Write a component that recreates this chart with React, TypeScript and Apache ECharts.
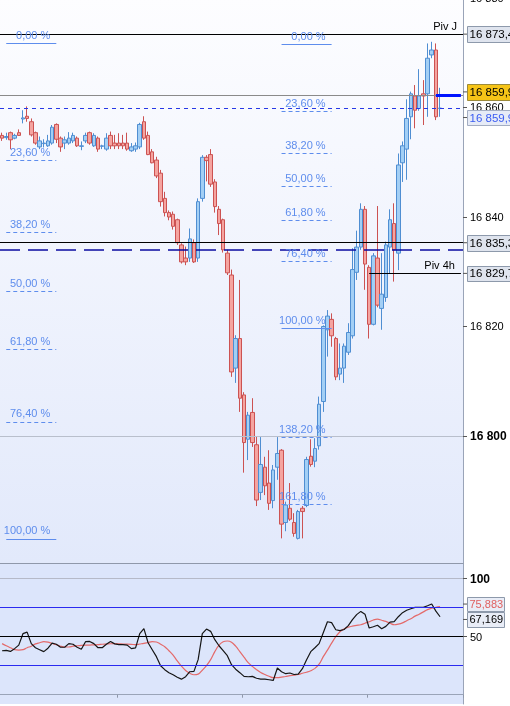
import React, { useEffect, useRef } from 'react';
import * as echarts from 'echarts';

const open = [16854.9, 16854.5, 16855.4, 16854.4, 16855.4, 16857.9, 16858.4, 16857.4, 16855.4, 16852.8,
  16853.4, 16853.0, 16853.5, 16856.9, 16854.4, 16853.5, 16853.5, 16853.9, 16854.4, 16852.9,
  16853.9, 16855.4, 16853.0, 16854.4, 16852.9, 16852.4, 16854.9, 16853.5, 16853.5, 16853.5,
  16853.5, 16852.1, 16852.4, 16852.8, 16857.4, 16854.9, 16851.9, 16850.4, 16848.0, 16843.4,
  16840.8, 16840.5, 16839.5, 16834.9, 16832.5, 16832.5, 16835.3, 16832.5, 16843.4, 16850.9,
  16851.4, 16846.4, 16841.4, 16839.5, 16833.4, 16829.4, 16812.4, 16817.8, 16807.5, 16799.4,
  16804.3, 16798.4, 16789.7, 16794.3, 16791.4, 16788.2, 16794.3, 16797.4, 16784.2, 16786.8,
  16784.2, 16781.3, 16786.8, 16787.3, 16796.3, 16795.4, 16798.2, 16806.3, 16819.4, 16821.3,
  16817.8, 16811.3, 16812.4, 16815.3, 16818.3, 16829.9, 16834.5, 16841.4, 16830.8, 16820.4,
  16832.5, 16823.3, 16825.3, 16834.5, 16838.8, 16833.4, 16849.9, 16852.4, 16858.3, 16862.1,
  16859.8, 16862.5, 16862.5, 16869.6, 16870.5, 16859.8];

const close = [16854.4, 16854.7, 16854.1, 16854.9, 16854.9, 16858.1, 16858.0, 16855.0, 16853.5, 16853.9,
  16853.5, 16853.9, 16856.4, 16854.2, 16852.8, 16854.1, 16854.4, 16854.9, 16853.0, 16853.0,
  16854.9, 16853.5, 16854.9, 16852.4, 16853.0, 16854.4, 16853.0, 16853.0, 16853.0, 16853.0,
  16852.4, 16852.8, 16853.0, 16856.9, 16854.4, 16851.4, 16849.9, 16847.5, 16842.8, 16840.8,
  16840.0, 16838.3, 16835.3, 16831.8, 16831.8, 16836.0, 16831.8, 16842.8, 16850.9, 16850.3,
  16846.0, 16841.9, 16838.8, 16834.0, 16829.8, 16811.7, 16817.8, 16806.9, 16798.8, 16803.8,
  16798.8, 16788.3, 16794.8, 16790.9, 16787.7, 16793.8, 16796.8, 16783.9, 16787.4, 16784.8,
  16782.2, 16786.2, 16786.2, 16795.7, 16794.8, 16797.7, 16805.8, 16820.0, 16821.9, 16818.3,
  16810.8, 16812.4, 16816.4, 16818.9, 16830.4, 16834.5, 16841.4, 16831.4, 16820.4, 16832.9,
  16823.9, 16825.9, 16834.9, 16839.5, 16834.0, 16849.5, 16853.0, 16858.0, 16862.5, 16859.5,
  16862.1, 16862.1, 16869.0, 16870.5, 16858.3, 16859.9];

const low = [16853.9, 16854.1, 16852.4, 16854.2, 16854.8, 16857.1, 16857.4, 16854.7, 16853.2, 16852.4,
  16852.7, 16852.8, 16853.2, 16853.5, 16851.9, 16852.4, 16853.2, 16853.5, 16852.8, 16852.2,
  16853.5, 16853.2, 16852.8, 16851.9, 16852.4, 16852.1, 16852.4, 16852.4, 16852.4, 16852.4,
  16852.1, 16851.9, 16851.9, 16852.4, 16854.1, 16851.3, 16849.8, 16847.1, 16841.9, 16840.1,
  16839.4, 16837.7, 16834.9, 16831.5, 16831.2, 16831.8, 16831.6, 16831.8, 16842.8, 16846.5,
  16845.5, 16840.8, 16836.7, 16833.5, 16829.4, 16810.8, 16809.7, 16804.4, 16793.3, 16795.6,
  16798.0, 16787.2, 16788.3, 16789.2, 16786.5, 16786.8, 16792.0, 16781.3, 16782.6, 16784.5,
  16781.6, 16781.1, 16781.3, 16787.0, 16794.4, 16794.3, 16797.5, 16804.4, 16814.5, 16816.3,
  16810.2, 16810.2, 16809.7, 16814.8, 16817.8, 16828.5, 16834.0, 16826.7, 16817.8, 16820.2,
  16823.5, 16819.4, 16824.5, 16829.7, 16828.2, 16830.3, 16846.4, 16846.8, 16854.2, 16856.2,
  16859.4, 16856.8, 16858.3, 16869.0, 16857.7, 16858.3];

const high = [16855.4, 16855.4, 16855.6, 16855.2, 16856.0, 16859.5, 16860.2, 16858.0, 16855.6, 16854.7,
  16854.2, 16855.0, 16856.8, 16857.1, 16854.7, 16854.7, 16855.5, 16855.4, 16854.7, 16853.8,
  16855.4, 16855.6, 16855.3, 16854.7, 16853.2, 16855.3, 16855.6, 16855.0, 16855.3, 16855.0,
  16855.4, 16853.5, 16853.6, 16857.2, 16858.4, 16855.6, 16852.4, 16851.0, 16848.6, 16844.6,
  16841.2, 16841.0, 16839.7, 16835.2, 16834.6, 16837.9, 16835.9, 16843.4, 16851.3, 16851.3,
  16852.4, 16846.9, 16842.0, 16839.7, 16834.0, 16830.4, 16818.4, 16828.5, 16808.0, 16804.4,
  16806.9, 16799.9, 16799.8, 16796.2, 16797.4, 16794.7, 16799.8, 16797.6, 16788.0, 16791.4,
  16785.9, 16786.5, 16787.2, 16796.2, 16799.4, 16799.6, 16807.2, 16820.2, 16823.0, 16822.4,
  16818.1, 16816.9, 16816.9, 16820.6, 16834.3, 16837.5, 16842.5, 16842.0, 16831.2, 16833.4,
  16842.0, 16833.4, 16835.5, 16841.4, 16842.5, 16851.6, 16853.8, 16861.5, 16862.9, 16864.1,
  16867.0, 16865.0, 16871.7, 16872.0, 16871.7, 16863.6];

const stochK = [37.9, 38.2, 37.3, 39.7, 42.7, 52.6, 53.9, 44.0, 40.5, 38.8,
  37.1, 40.1, 44.4, 43.5, 40.9, 40.9, 44.0, 43.5, 40.9, 39.2,
  45.7, 45.9, 44.0, 40.5, 40.5, 43.5, 45.9, 43.8, 43.1, 43.1,
  42.7, 39.7, 40.3, 52.6, 56.9, 44.8, 38.8, 32.8, 25.0, 21.6,
  19.0, 17.2, 15.1, 13.4, 15.5, 19.8, 20.1, 30.2, 52.6, 56.6,
  54.6, 47.4, 42.2, 37.9, 33.6, 25.9, 22.0, 19.0, 15.8, 15.5,
  15.8, 14.2, 13.5, 13.4, 12.9, 12.3, 23.0, 19.8, 18.1, 18.7,
  17.4, 17.7, 22.4, 30.2, 37.1, 40.5, 44.0, 53.4, 62.9, 62.1,
  56.0, 55.2, 56.2, 59.5, 64.7, 69.0, 71.8, 69.4, 57.5, 58.6,
  59.9, 56.9, 58.9, 62.5, 62.9, 67.2, 70.7, 72.8, 74.1, 75.2,
  75.3, 75.3, 76.7, 78.2, 72.0, 67.169];

const stochD = [44.0, 42.2, 40.5, 38.8, 38.4, 38.8, 40.5, 41.8, 43.8, 44.8,
  45.7, 45.3, 44.1, 43.1, 41.8, 41.1, 41.1, 41.8, 42.2, 42.5,
  42.7, 42.8, 43.0, 43.1, 43.5, 43.7, 43.9, 44.0, 43.9, 43.7,
  43.6, 43.4, 43.1, 43.7, 44.3, 45.0, 45.7, 45.4, 43.5, 41.4,
  37.9, 34.1, 29.1, 24.6, 20.9, 18.5, 17.2, 17.7, 21.1, 25.0,
  30.2, 37.1, 42.7, 45.7, 46.3, 45.3, 41.8, 37.1, 32.3, 27.6,
  24.4, 21.6, 19.2, 17.4, 15.9, 14.7, 14.7, 15.2, 15.7, 16.4,
  16.8, 17.4, 18.5, 19.4, 20.7, 22.7, 26.3, 32.8, 38.4, 44.4,
  50.0, 54.3, 56.7, 58.2, 59.1, 59.7, 60.3, 61.6, 62.9, 64.4,
  65.1, 64.2, 63.2, 61.6, 60.3, 60.8, 61.9, 63.8, 65.5, 67.7,
  69.4, 71.4, 73.3, 74.6, 75.3, 75.883];

const SLOTS = 111;
const categories = Array.from({ length: SLOTS }, (_, i) => String(i));
const priceTicks = [16800, 16820, 16840, 16860, 16880];
const oscTicks = [50, 100];
const timeTickSlots = [28, 58, 88];

const fibLevels = [0, 23.6, 38.2, 50, 61.8, 76.4, 100];
const fibExtLevels = [0, 23.6, 38.2, 50, 61.8, 76.4, 100, 138.2, 161.8];
const fibLeft = { top: 16871.7, bottom: 16781.2, from: 1, to: 13 };
const fibRight = { top: 16871.5, bottom: 16819.6, from: 67, to: 79 };

const pivJ = 16873.4;
const lastPriceLine = 16862.3;
const lastPrice = 16859.9;
const level2 = 16835.3;
const dashLevel = 16834.0;
const piv4h = 16829.7;
const piv4hFrom = 88;
const roundLevel = 16800;
const oscLevels = [100, 75, 50, 25];
const lastK = 67.169;
const lastD = 75.883;

const FONT = '"Liberation Sans", Arial, Helvetica, sans-serif';
const FIB_COLOR = '#5e8ded';

function fmt(v: number, d: number) {
  const s = v.toFixed(d);
  const parts = s.split('.');
  const intS = parts[0].replace(/\B(?=(\d{3})+(?!\d))/g, ' ');
  return parts[1] ? intS + ',' + parts[1] : intS;
}

export default function App() {
  const ref = useRef<HTMLDivElement>(null);
  useEffect(() => {
    const chart = echarts.init(ref.current!, null, { renderer: 'svg' });
    const candleData = open.map((o, i) => [o, close[i], low[i], high[i]]);

    const fibLines = (fib: any, levels: number[]) =>
      levels.map((l) => {
        const p = fib.top - ((fib.top - fib.bottom) * l) / 100;
        const solid = l === 0 || l === 100;
        return [
          {
            coord: [categories[fib.from], p],
            lineStyle: { color: FIB_COLOR, width: 1, type: solid ? 'solid' : [4, 3] },
            label: {
              show: true,
              position: 'insideEndTop',
              formatter: l.toFixed(2).replace('.', ',') + ' %',
              color: FIB_COLOR,
              fontSize: 11,
              fontFamily: FONT,
              distance: [6, 3],
            },
          },
          { coord: [categories[fib.to], p] },
        ];
      });

    const option: any = {
      animation: false,
      textStyle: { fontFamily: FONT },
      grid: [
        {
          left: 0, right: 47, top: -2, height: 565, show: true, borderWidth: 0,
          outerBoundsMode: 'none', containLabel: false,
          backgroundColor: new echarts.graphic.LinearGradient(0, 0, 0, 1, [
            { offset: 0, color: '#fdfdff' },
            { offset: 1, color: '#e2e9fb' },
          ]),
        },
        {
          left: 0, right: 47, top: 563, height: 141, show: true, borderWidth: 0,
          outerBoundsMode: 'none', containLabel: false, backgroundColor: '#dce5fb',
        },
      ],
      xAxis: [
        {
          type: 'category', gridIndex: 0, data: categories, boundaryGap: true,
          axisLabel: { show: false }, axisTick: { show: false },
          axisLine: { show: true, lineStyle: { color: '#8f98aa', width: 1 } },
          splitLine: { show: false },
        },
        {
          type: 'category', gridIndex: 1, data: categories, boundaryGap: true,
          axisLabel: { show: false },
          axisTick: { show: true, length: 3, interval: (i: number) => timeTickSlots.includes(i), lineStyle: { color: '#8f98aa' } },
          axisLine: { show: true, lineStyle: { color: '#9aa4b8', width: 1 } },
          splitLine: { show: false },
        },
      ],
      yAxis: [
        {
          type: 'value', gridIndex: 0, position: 'right', min: 16776.8, max: 16880, scale: true,
          splitLine: { show: false },
          axisLine: { show: true, lineStyle: { color: '#9aa4b8' } },
          axisTick: { show: true, length: 4, customValues: priceTicks, lineStyle: { color: '#555' } },
          axisLabel: {
            customValues: priceTicks, margin: 7, color: '#000', fontSize: 11, fontFamily: FONT,
            formatter: (v: number) => (v === roundLevel ? '{b|' + fmt(v, 0) + '}' : fmt(v, 0)),
            rich: { b: { fontWeight: 'bold', fontSize: 12, color: '#000', fontFamily: FONT } },
          },
        },
        {
          type: 'value', gridIndex: 1, position: 'right', min: -8, max: 113.5,
          splitLine: { show: false },
          axisLine: { show: true, lineStyle: { color: '#9aa4b8' } },
          axisTick: { show: true, length: 4, customValues: oscTicks, lineStyle: { color: '#555' } },
          axisLabel: {
            customValues: oscTicks, margin: 7, color: '#000', fontSize: 11, fontFamily: FONT,
            formatter: (v: number) => (v === 100 ? '{b|100}' : String(v)),
            rich: { b: { fontWeight: 'bold', fontSize: 12, color: '#000', fontFamily: FONT } },
          },
        },
      ],
      series: [
        {
          type: 'candlestick', xAxisIndex: 0, yAxisIndex: 0, data: candleData, barWidth: 4,
          itemStyle: {
            color: '#a3cff5', color0: '#f5a4a0',
            borderColor: '#4f8ed2', borderColor0: '#cc5252', borderWidth: 1,
          },
          markLine: {
            silent: true, symbol: ['none', 'none'], animation: false,
            label: { show: false },
            data: [
              { yAxis: roundLevel, lineStyle: { color: '#b9bfcc', width: 1, type: 'solid' } },
              {
                yAxis: pivJ, lineStyle: { color: '#000', width: 1, type: 'solid' },
                label: { show: true, position: 'insideEndTop', formatter: 'Piv J', color: '#000', fontSize: 11, fontFamily: FONT, distance: [6, 3] },
              },
              { yAxis: lastPriceLine, lineStyle: { color: '#8a8a8a', width: 1, type: 'solid' } },
              { yAxis: lastPrice, lineStyle: { color: '#2638e6', width: 1, type: [4, 4] } },
              { yAxis: level2, lineStyle: { color: '#000', width: 1, type: 'solid' } },
              { yAxis: dashLevel, lineStyle: { color: '#0a0aa0', width: 1.5, type: [20, 8] } },
              [
                {
                  coord: [categories[piv4hFrom], piv4h], lineStyle: { color: '#000', width: 1, type: 'solid' },
                  label: { show: true, position: 'insideEndTop', formatter: 'Piv 4h', color: '#000', fontSize: 11, fontFamily: FONT, distance: [6, 3] },
                },
                { coord: [categories[SLOTS - 1], piv4h] },
              ],
              [
                { coord: [categories[open.length - 2], lastPriceLine], lineStyle: { color: '#0014ff', width: 3, type: 'solid' } },
                { coord: [categories[SLOTS - 1], lastPriceLine] },
              ],
              ...fibLines(fibLeft, fibLevels),
              ...fibLines(fibRight, fibExtLevels),
            ],
          },
        },
        {
          type: 'line', xAxisIndex: 1, yAxisIndex: 1, data: stochK, symbol: 'none',
          lineStyle: { color: '#151515', width: 1.2 }, z: 4,
          markLine: {
            silent: true, symbol: ['none', 'none'], animation: false, label: { show: false },
            data: oscLevels.map((l) => ({
              yAxis: l,
              lineStyle: { type: 'solid', width: 1, color: l === 100 ? '#b5b9c8' : l === 50 ? '#000' : '#2a2af0' },
            })),
          },
        },
        {
          type: 'line', xAxisIndex: 1, yAxisIndex: 1, data: stochD, symbol: 'none', smooth: 0.4,
          lineStyle: { color: '#e46a6a', width: 1.2 }, z: 3,
        },
      ],
    };
    chart.setOption(option);

    const boxes = [
      { v: pivJ, axis: 0, text: fmt(pivJ, 1), fill: '#dfe4ee', stroke: '#8d99ab', color: '#000', dy: 0, h: 16, w: 50, fs: 11.5 },
      { v: lastPriceLine, axis: 0, text: fmt(lastPrice, 1), fill: '#f6c417', stroke: '#9c8a3a', color: '#000', dy: -3, h: 16, w: 50, fs: 11.5 },
      { v: lastPrice, axis: 0, text: fmt(lastPrice, 1), fill: '#e6ebf7', stroke: '#a3adc2', color: '#3b5cf2', dy: 9.5, h: 15, w: 50, fs: 11.5 },
      { v: level2, axis: 0, text: fmt(level2, 1), fill: '#dfe4ee', stroke: '#8d99ab', color: '#000', dy: 0, h: 16, w: 50, fs: 11.5 },
      { v: piv4h, axis: 0, text: fmt(piv4h, 1), fill: '#dfe4ee', stroke: '#8d99ab', color: '#000', dy: 0, h: 15, w: 50, fs: 11.5 },
      { v: lastD, axis: 1, text: fmt(lastD, 3), fill: '#e9edf7', stroke: '#8d99ab', color: '#e06060', dy: -2.6, h: 14, w: 37, fs: 11 },
      { v: lastK, axis: 1, text: fmt(lastK, 3), fill: '#e9edf7', stroke: '#8d99ab', color: '#000', dy: 2.7, h: 15, w: 37, fs: 11 },
    ];
    const graphic = boxes.map((b) => {
      const yc = (chart.convertToPixel({ yAxisIndex: b.axis } as any, b.v) as number) + b.dy;
      return {
        type: 'group', z: 100,
        children: [
          { type: 'line', shape: { x1: 463, y1: yc, x2: 467, y2: yc }, style: { stroke: '#555', lineWidth: 1 }, z: 100 },
          {
            type: 'rect', z: 100,
            shape: { x: 467.5, y: Math.round(yc - b.h / 2) + 0.5, width: b.w, height: b.h },
            style: { fill: b.fill, stroke: b.stroke, lineWidth: 1 },
          },
          {
            type: 'text', z: 101, x: 469.5, y: yc,
            style: { text: b.text, fill: b.color, font: `${b.fs}px ${FONT}`, verticalAlign: 'middle', align: 'left' },
          },
        ],
      };
    });
    chart.setOption({ graphic });

    return () => chart.dispose();
  }, []);
  return <div ref={ref} style={{ position: 'fixed', left: 0, top: 0, width: 510, height: 706 }} />;
}
